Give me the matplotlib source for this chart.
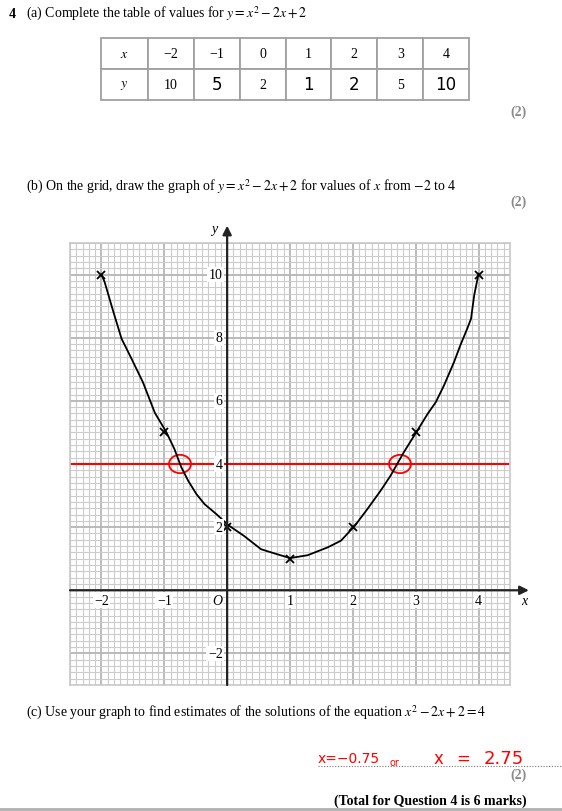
import numpy as np
import matplotlib
matplotlib.use("Agg")
import matplotlib.pyplot as plt
from matplotlib.patches import Ellipse

plt.rcParams['font.family'] = ['Liberation Serif', 'DejaVu Serif']
plt.rcParams['mathtext.fontset'] = 'stix'

# table of values
table_x = [-2, -1, 0, 1, 2, 3, 4]
table_y = [10, 5, 2, 1, 2, 5, 10]
handwritten = [False, True, False, True, True, False, True]

# hand drawn curve
curve_x = [-2.00, -1.95, -1.81, -1.68, -1.52, -1.34, -1.15, -0.97, -0.84, -0.73,
           -0.62, -0.49, -0.36, -0.17, 0.02, 0.27, 0.54, 0.75, 1.00, 1.28,
           1.60, 1.81, 2.03, 2.23, 2.44, 2.60, 2.81, 3.02, 3.19, 3.32,
           3.45, 3.61, 3.71, 3.82, 3.88, 3.93, 4.00]
curve_y = [10.00, 9.77, 8.82, 7.97, 7.33, 6.59, 5.62, 5.02, 4.48, 3.90,
           3.47, 3.05, 2.73, 2.41, 2.06, 1.72, 1.30, 1.17, 1.02, 1.11,
           1.36, 1.57, 2.04, 2.57, 3.15, 3.63, 4.37, 5.04, 5.59, 5.96,
           6.49, 7.23, 7.76, 8.29, 8.60, 9.34, 10.03]

line_y = 4
solutions = [-0.75, 2.75]

xlabels = [-2, -1, 1, 2, 3, 4]
ylabels = [10, 8, 6, 4, 2, -2]

W, H = 562, 812
fig = plt.figure(figsize=(W / 100, H / 100), dpi=100)

# page layer in pixel coordinates
page = fig.add_axes([0, 0, 1, 1])
page.set_xlim(0, W)
page.set_ylim(H, 0)
page.axis('off')

fs = 10
grey = '#8a8a8a'
page.text(9, 14, '4', fontsize=fs, fontweight='bold', va='center')
page.text(26, 14, r'(a) Complete the table of values for $y = x^2 - 2x + 2$', fontsize=fs, va='center')
page.text(527, 112, '(2)', fontsize=fs, color=grey, fontweight='bold', ha='right', va='center')
page.text(26, 187, r'(b) On the grid, draw the graph of $y = x^2 - 2x + 2$ for values of $x$ from $-2$ to 4',
          fontsize=fs, va='center')
page.text(527, 202, '(2)', fontsize=fs, color=grey, fontweight='bold', ha='right', va='center')
page.text(26, 713, r'(c) Use your graph to find estimates of the solutions of the equation $x^2 - 2x + 2 = 4$',
          fontsize=fs, va='center')
page.plot([318, 562], [767, 767], ls=(0, (1, 1.5)), color='#777777', lw=0.8)
hand = dict(color='red', family='DejaVu Sans', va='center')
page.text(318, 759, 'x=−0.75', fontsize=10, **hand)
page.text(389, 763, 'or', fontsize=7, **hand)
page.text(434, 759, 'x', fontsize=12, **hand)
page.text(456, 759, '=', fontsize=12, **hand)
page.text(484, 759, '2.75', fontsize=13, **hand)
page.text(527, 775, '(2)', fontsize=fs, color=grey, fontweight='bold', ha='right', va='center')
page.text(527, 801, '(Total for Question 4 is 6 marks)', fontsize=fs, fontweight='bold', ha='right', va='center')
page.plot([0, W], [810, 810], color='#b0b0b0', lw=2)

# table
cells = [[r'$x$'] + [str(v).replace('-', '−') for v in table_x],
         [r'$y$'] + [str(v) for v in table_y]]
tl, tr, tt, tb = 101, 469, 39, 101
tab = page.table(cellText=cells, cellLoc='center',
                 colWidths=[47] + [(tr - tl - 47) / 7] * 7,
                 bbox=[tl / W, 1 - tb / H, (tr - tl) / W, (tb - tt) / H])
tab.auto_set_font_size(False)
tab.set_fontsize(fs)
for (r, c), cell in tab.get_celld().items():
    cell.set_edgecolor('#a0a0a0')
    cell.set_linewidth(1.3)
    if r == 1 and c > 0 and handwritten[c - 1]:
        cell.get_text().set_fontfamily('DejaVu Sans')
        cell.get_text().set_fontsize(12)

# grid
ax = fig.add_axes([70 / W, 1 - 686 / H, 440 / W, 442 / H])
ax.set_xlim(-2.5, 4.5)
ax.set_ylim(-3, 11)
ax.set_xticks(np.arange(-2, 5, 1))
ax.set_xticks(np.arange(-2.5, 4.51, 0.1), minor=True)
ax.set_yticks(np.arange(-2, 11, 2))
ax.set_yticks(np.arange(-3, 11.01, 0.2), minor=True)
ax.grid(which='minor', color='#cccccc', lw=0.8)
ax.grid(which='major', color='#b5b5b5', lw=1.3)
ax.tick_params(which='both', length=0, labelbottom=False, labelleft=False)
for s in ax.spines.values():
    s.set_color('#c8c8c8')
    s.set_linewidth(1.2)
ax.set_axisbelow(True)

arrow = dict(arrowstyle='-|>', color='#222222', lw=1.6, mutation_scale=13, shrinkA=0, shrinkB=0)
ax.annotate('', xy=(4.8, 0), xytext=(-2.5, 0), arrowprops=arrow, annotation_clip=False)
ax.annotate('', xy=(0, 11.55), xytext=(0, -3), arrowprops=arrow, annotation_clip=False)
ax.text(4.73, -0.33, 'x', style='italic', fontsize=fs, ha='center', va='center', clip_on=False)
ax.text(-0.2, 11.47, 'y', style='italic', fontsize=fs, ha='center', va='center', clip_on=False)

box = dict(facecolor='white', edgecolor='none', pad=1)
for v in xlabels:
    ax.text(v, -0.32, str(v).replace('-', '−'), fontsize=fs, ha='center', va='center', bbox=box)
ax.text(-0.16, -0.32, 'O', style='italic', fontsize=fs, ha='center', va='center', bbox=box)
for v in ylabels:
    ax.text(-0.07, v, str(v).replace('-', '−'), fontsize=fs, ha='right', va='center', bbox=box)

ax.axhline(line_y, color='red', lw=1.5)
ax.plot(curve_x, curve_y, color='black', lw=1.3)
ax.plot(table_x, table_y, 'x', color='black', ms=6, mew=1.3)
for s in solutions:
    ax.add_patch(Ellipse((s, line_y), 0.35, 0.58, fill=False, edgecolor='red', lw=1.3))

fig.savefig('out.png', dpi=100)
